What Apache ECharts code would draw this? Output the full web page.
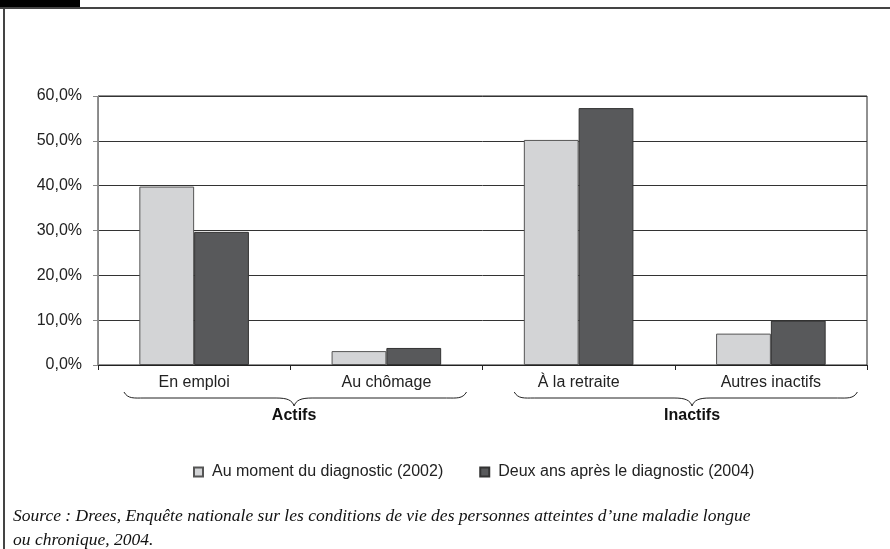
<!DOCTYPE html>
<html>
<head>
<meta charset="utf-8">
<script src="https://cdn.jsdelivr.net/npm/echarts@6/dist/echarts.min.js"></script>
<style>
html,body{margin:0;padding:0;background:#fff;}
#c{width:890px;height:549px;}
</style>
</head>
<body>
<div id="c"></div>
<script>
const categories = ['En emploi', 'Au chômage', 'À la retraite', 'Autres inactifs'];
const groups = ['Actifs', 'Inactifs'];
const seriesNames = ['Au moment du diagnostic (2002)', 'Deux ans après le diagnostic (2004)'];
const values2002 = [39.8, 3.1, 50.2, 7.0];
const values2004 = [29.7, 3.8, 57.3, 9.9];
const yTicks = [0, 10, 20, 30, 40, 50, 60];
const sourceText = 'Source : Drees, Enquête nationale sur les conditions de vie des personnes atteintes d’une maladie longue\nou chronique, 2004.';

const chart = echarts.init(document.getElementById('c'), null, {renderer: 'canvas'});
const font = 'Liberation Sans, Arial, sans-serif';

const option = {
  animation: false,
  backgroundColor: '#fff',
  grid: {left: 98, right: 23, top: 96, bottom: 184, show: true, borderColor: '#222', borderWidth: 1, backgroundColor: 'transparent'},
  legend: {
    top: 459, left: 188,
    itemWidth: 9, itemHeight: 9, itemGap: 36, icon: 'rect',
    textStyle: {fontFamily: font, fontSize: 16, color: '#222', padding: [0, 0, 0, 4]},
    data: seriesNames
  },
  title: {
    text: sourceText, left: 8, top: 499,
    textStyle: {fontFamily: 'Liberation Serif, Times New Roman, serif', fontStyle: 'italic', fontWeight: 'normal', fontSize: 17.5, color: '#111', lineHeight: 24}
  },
  xAxis: {
    type: 'category', data: categories,
    axisLine: {lineStyle: {color: '#222', width: 1}},
    axisTick: {show: true, length: 5, lineStyle: {color: '#222'}},
    axisLabel: {fontFamily: font, fontSize: 16, color: '#222', margin: 10}
  },
  yAxis: {
    type: 'value', min: yTicks[0], max: yTicks[yTicks.length - 1], interval: yTicks[1] - yTicks[0],
    axisLine: {show: true, lineStyle: {color: '#888', width: 1}},
    axisTick: {show: true, length: 5, lineStyle: {color: '#888'}},
    splitLine: {lineStyle: {color: '#333', width: 1}},
    axisLabel: {fontFamily: font, fontSize: 16, color: '#222', margin: 16,
      formatter: v => v.toFixed(1).replace('.', ',') + '%'}
  },
  series: [
    {name: seriesNames[0], type: 'bar', data: values2002, barWidth: '28.5%', barGap: '0%',
      itemStyle: {color: '#d3d4d6', borderColor: '#555', borderWidth: 1}},
    {name: seriesNames[1], type: 'bar', data: values2004, barWidth: '28.5%', barGap: '0%',
      itemStyle: {color: '#58595b', borderColor: '#333', borderWidth: 1}}
  ]
};
chart.setOption(option);

function drawDecor() {
  const p0 = chart.convertToPixel({xAxisIndex: 0}, categories[0]);
  const p1 = chart.convertToPixel({xAxisIndex: 0}, categories[1]);
  const step = p1 - p0;
  const yAxisPx = chart.convertToPixel({yAxisIndex: 0}, 0);
  const xAt = i => p0 + i * step;
  const spans = [[-0.365, 1.417, 0.52], [1.665, 3.45, 2.59]];
  const stroke = {stroke: '#222', lineWidth: 1, fill: null};
  const els = [
    {type: 'rect', shape: {x: 0, y: 0, width: 80, height: 7}, style: {fill: '#000'}},
    {type: 'line', shape: {x1: 0, y1: 8, x2: 890, y2: 8}, style: {stroke: '#444', lineWidth: 2}},
    {type: 'line', shape: {x1: 4, y1: 8, x2: 4, y2: 549}, style: {stroke: '#444', lineWidth: 2}}
  ];
  spans.forEach((s, k) => {
    const a = xAt(s[0]), b = xAt(s[1]), m = xAt(s[2]);
    const yTop = yAxisPx + 27, yMid = yAxisPx + 33, yTip = yAxisPx + 41;
    els.push({type: 'bezierCurve', shape: {x1: a, y1: yTop, cpx1: a + 4, cpy1: yMid + 1, cpx2: a + 10, cpy2: yMid, x2: a + 20, y2: yMid}, style: stroke});
    els.push({type: 'line', shape: {x1: a + 20, y1: yMid, x2: m - 18, y2: yMid}, style: stroke});
    els.push({type: 'bezierCurve', shape: {x1: m - 18, y1: yMid, cpx1: m - 7, cpy1: yMid, cpx2: m - 2, cpy2: yMid + 2, x2: m, y2: yTip}, style: stroke});
    els.push({type: 'bezierCurve', shape: {x1: m, y1: yTip, cpx1: m + 2, cpy1: yMid + 2, cpx2: m + 7, cpy2: yMid, x2: m + 18, y2: yMid}, style: stroke});
    els.push({type: 'line', shape: {x1: m + 18, y1: yMid, x2: b - 20, y2: yMid}, style: stroke});
    els.push({type: 'bezierCurve', shape: {x1: b - 20, y1: yMid, cpx1: b - 10, cpy1: yMid, cpx2: b - 4, cpy2: yMid + 1, x2: b, y2: yTop}, style: stroke});
    els.push({type: 'text', x: m, y: yAxisPx + 51, style: {text: groups[k], font: `bold 16px ${font}`, fill: '#111', textAlign: 'center', textVerticalAlign: 'middle'}});
  });
  chart.setOption({graphic: {elements: els}});
}
drawDecor();
</script>
</body>
</html>
